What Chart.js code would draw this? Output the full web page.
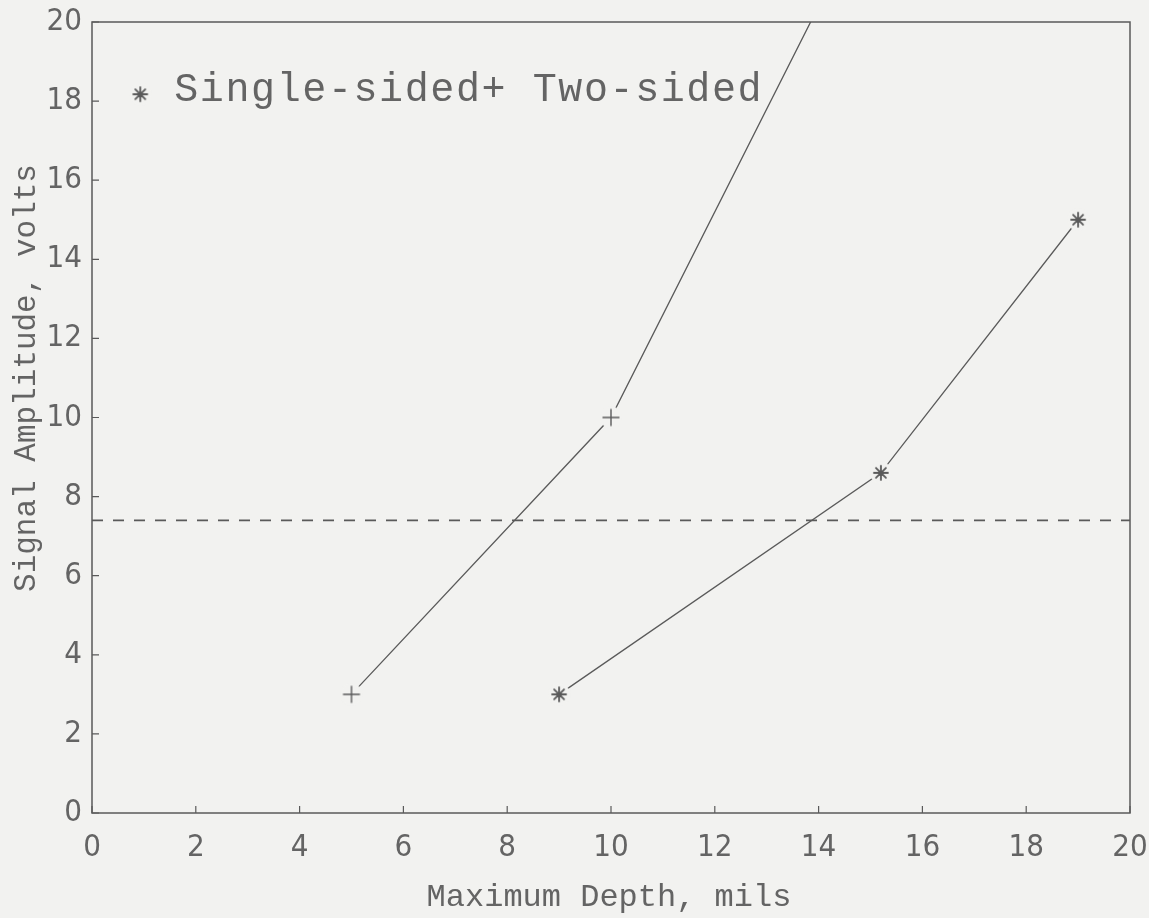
<!DOCTYPE html>
<html>
<head>
<meta charset="utf-8">
<script src="https://cdn.jsdelivr.net/npm/chart.js@4.4.1/dist/chart.umd.min.js"></script>
<style>
  html, body { margin: 0; padding: 0; background: #f2f2f0; }
  #wrap { width: 1149px; height: 918px; }
</style>
</head>
<body>
<div id="wrap"><canvas id="c" width="1149" height="918"></canvas></div>
<script>
// Depth (mils) vs signal amplitude (volts)
const singleDepth = [9.0, 15.2, 19.0];
const singleVolts = [3.0, 8.6, 15.0];
const twoDepth = [5.0, 10.0, 15.0];
const twoVolts = [3.0, 10.0, 23.0];
const thresholdDepth = [0, 20];
const thresholdVolts = [7.4, 7.4];
const xTicks = [0, 2, 4, 6, 8, 10, 12, 14, 16, 18, 20];
const yTicks = [0, 2, 4, 6, 8, 10, 12, 14, 16, 18, 20];

const BG = '#f2f2f0';
const INK = '#5a5a5a';
const TEXT = '#646464';
const TICK_FONT = "'Liberation Sans Narrow', 'DejaVu Sans Condensed', 'Liberation Sans', sans-serif";
const MONO = "'Liberation Mono', 'DejaVu Sans Mono', monospace";

const toPts = (xs, ys) => xs.map((x, i) => ({ x, y: ys[i] }));

// Marker sprites: a background-coloured disc keeps the connecting line clear of the symbol
function marker(kind) {
  const size = 26, c = size / 2;
  const cv = document.createElement('canvas');
  cv.width = size; cv.height = size;
  const g = cv.getContext('2d');
  g.fillStyle = BG;
  g.beginPath(); g.arc(c, c, 11, 0, Math.PI * 2); g.fill();
  g.strokeStyle = INK;
  g.lineCap = 'round';
  g.beginPath();
  if (kind === 'plus') {
    g.lineWidth = 1.4;
    g.moveTo(c - 8, c); g.lineTo(c + 8, c);
    g.moveTo(c, c - 8); g.lineTo(c, c + 8);
  } else {
    g.lineWidth = 1.8;
    const r = 7;
    for (let k = 0; k < 4; k++) {
      const a = k * Math.PI / 4;
      g.moveTo(c - r * Math.cos(a), c - r * Math.sin(a));
      g.lineTo(c + r * Math.cos(a), c + r * Math.sin(a));
    }
  }
  g.stroke();
  return cv;
}
const plusMark = marker('plus');
const starMark = marker('star');

// Box around the plot, inward tick marks, axis titles and the in-plot key
const frame = {
  id: 'frame',
  afterDraw(chart) {
    const { ctx, chartArea: a, scales } = chart;
    ctx.save();
    ctx.strokeStyle = INK;
    ctx.lineWidth = 1.5;
    ctx.strokeRect(a.left, a.top, a.right - a.left, a.bottom - a.top);
    ctx.lineWidth = 1.2;
    ctx.beginPath();
    xTicks.forEach(v => {
      const px = scales.x.getPixelForValue(v);
      ctx.moveTo(px, a.bottom);
      ctx.lineTo(px, a.bottom - 7);
    });
    yTicks.forEach(v => {
      const py = scales.y.getPixelForValue(v);
      ctx.moveTo(a.left, py);
      ctx.lineTo(a.left + 7, py);
    });
    ctx.stroke();

    ctx.fillStyle = TEXT;

    // x-axis title
    ctx.font = '32px ' + MONO;
    ctx.textAlign = 'center';
    ctx.textBaseline = 'alphabetic';
    ctx.fillText('Maximum Depth, mils', (a.left + a.right) / 2 - 2, 906);

    // y-axis title
    ctx.save();
    ctx.translate(27, 378);
    ctx.rotate(-Math.PI / 2);
    ctx.font = '31px ' + MONO;
    ctx.textAlign = 'center';
    ctx.textBaseline = 'middle';
    ctx.fillText('Signal Amplitude, volts', 0, 0);
    ctx.restore();

    // key
    const kx = scales.x.getPixelForValue(0.93);
    const ky = scales.y.getPixelForValue(18.2);
    ctx.drawImage(starMark, kx - 13, ky - 13 + 1);
    ctx.font = '40px ' + MONO;
    ctx.letterSpacing = '1.6px';
    ctx.textAlign = 'left';
    ctx.textBaseline = 'alphabetic';
    ctx.fillText('Single-sided+ Two-sided', kx + 34, ky + 8);
    ctx.restore();
  }
};

new Chart(document.getElementById('c'), {
  type: 'scatter',
  data: {
    datasets: [
      {
        label: 'Single-sided',
        data: toPts(singleDepth, singleVolts),
        showLine: true,
        borderColor: INK,
        borderWidth: 1.3,
        pointStyle: starMark
      },
      {
        label: 'Two-sided',
        data: toPts(twoDepth, twoVolts),
        showLine: true,
        borderColor: INK,
        borderWidth: 1.3,
        pointStyle: plusMark
      },
      {
        label: 'Threshold',
        data: toPts(thresholdDepth, thresholdVolts),
        showLine: true,
        borderColor: INK,
        borderWidth: 1.6,
        borderDash: [11, 10],
        pointRadius: 0
      }
    ]
  },
  options: {
    responsive: false,
    animation: false,
    layout: { padding: { top: 22, right: 19, left: 0, bottom: 0 } },
    plugins: { legend: { display: false }, tooltip: { enabled: false } },
    scales: {
      x: {
        type: 'linear',
        min: 0, max: 20,
        afterFit(s) { s.height = 105; s.paddingLeft = 0; s.paddingRight = 0; },
        afterBuildTicks(s) { s.ticks = xTicks.map(v => ({ value: v })); },
        grid: { drawOnChartArea: false, drawTicks: false },
        border: { display: false },
        ticks: {
          color: TEXT,
          padding: 16,
          maxRotation: 0,
          font: { family: TICK_FONT, size: 31 }
        }
      },
      y: {
        type: 'linear',
        min: 0, max: 20,
        afterFit(s) { s.width = 92; s.paddingTop = 0; s.paddingBottom = 0; },
        afterBuildTicks(s) { s.ticks = yTicks.map(v => ({ value: v })); },
        grid: { drawOnChartArea: false, drawTicks: false },
        border: { display: false },
        ticks: {
          color: TEXT,
          padding: 10,
          font: { family: TICK_FONT, size: 31 }
        }
      }
    }
  },
  plugins: [frame]
});
</script>
</body>
</html>
